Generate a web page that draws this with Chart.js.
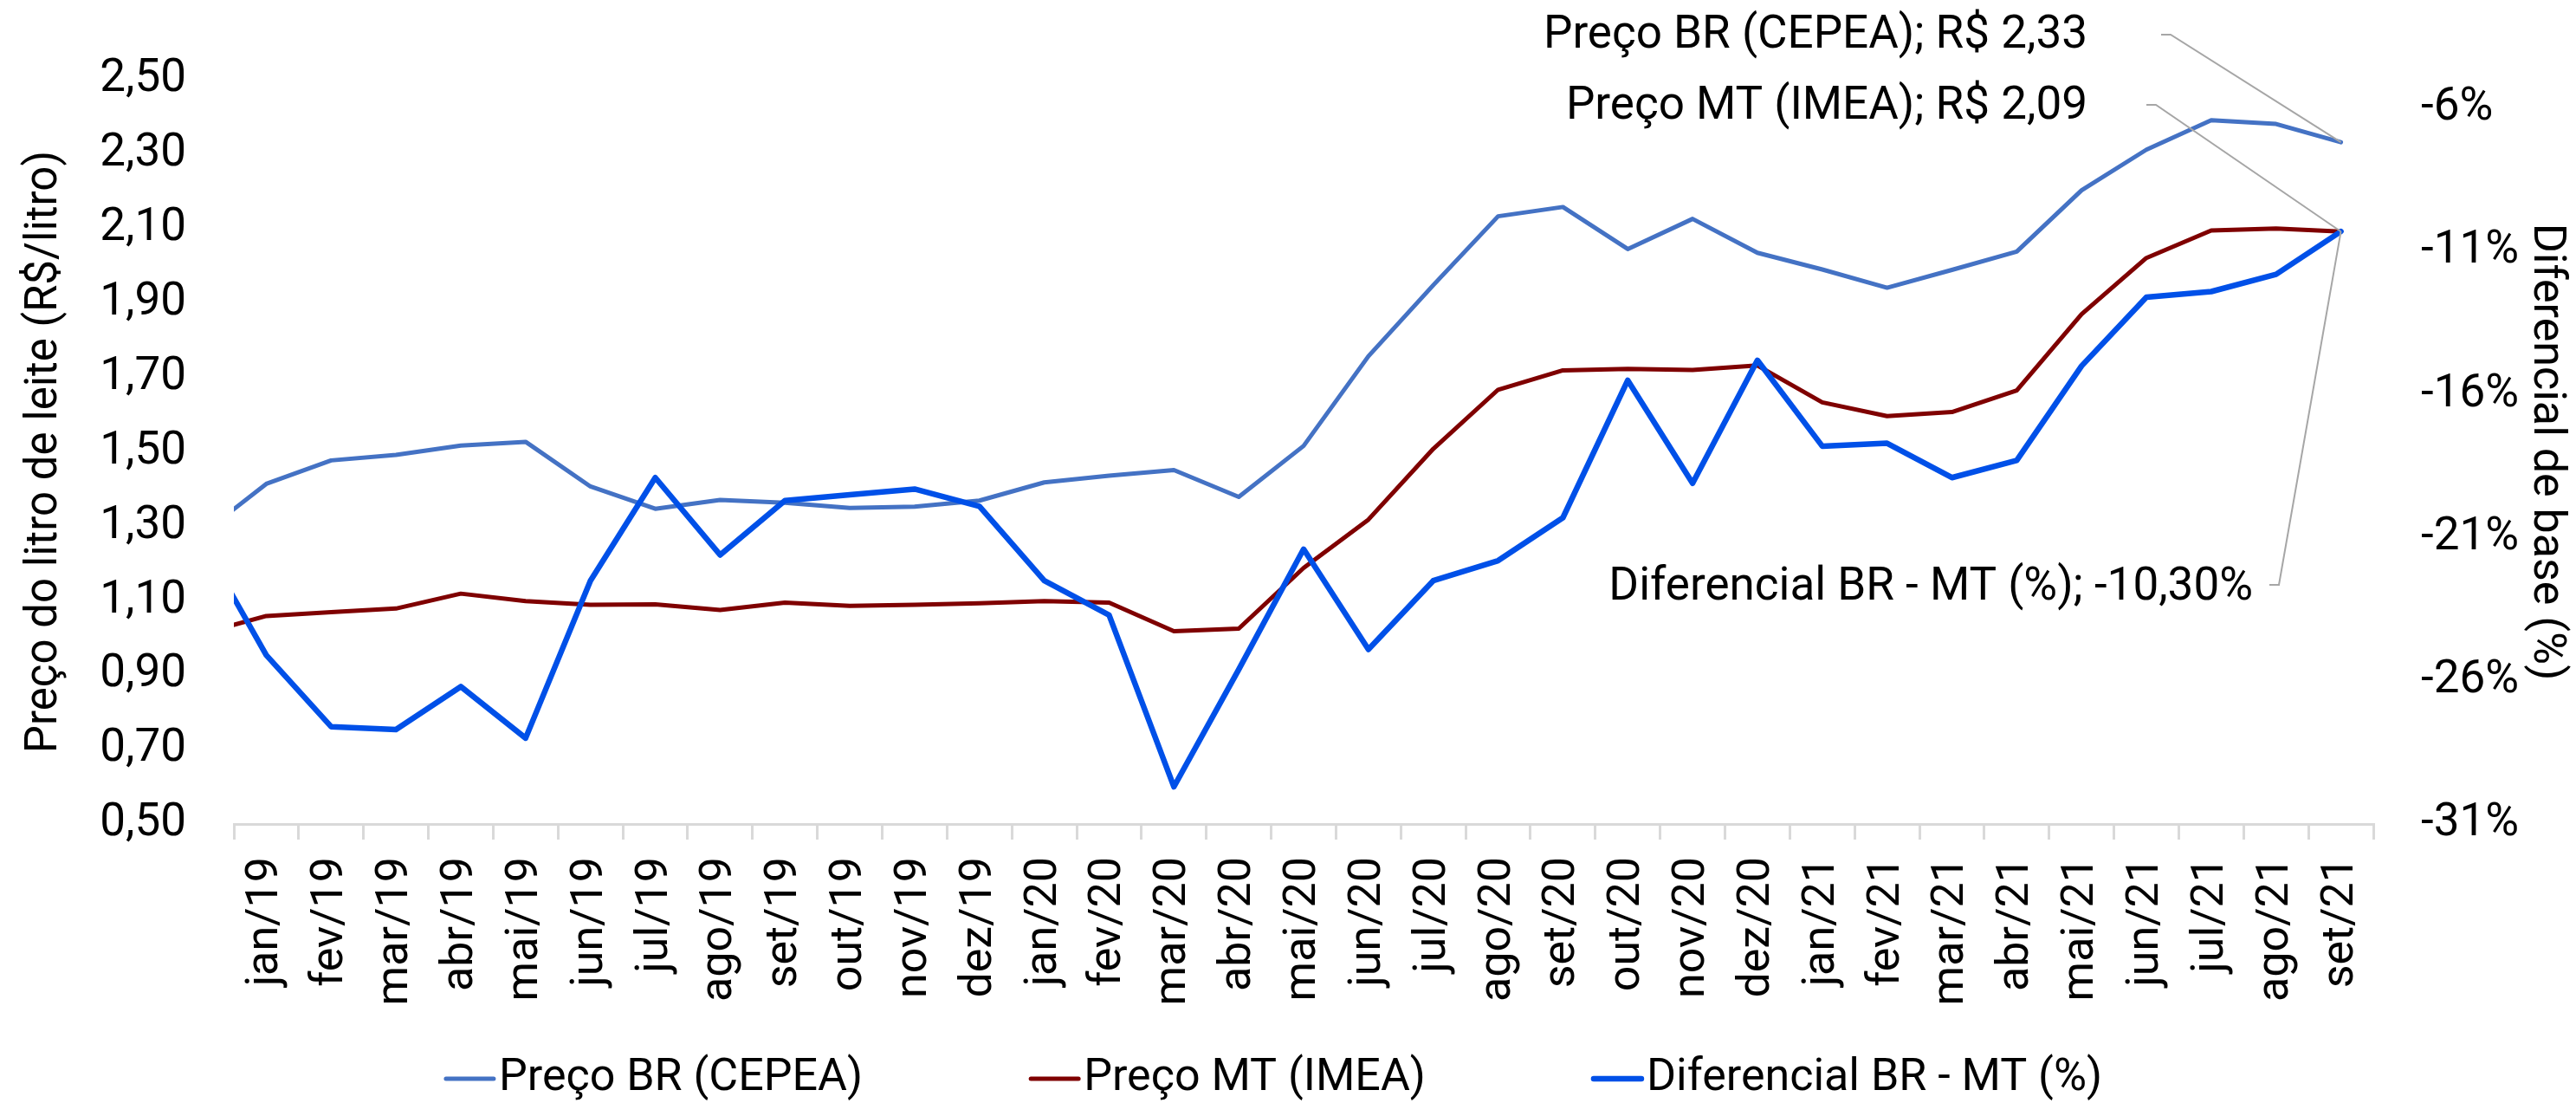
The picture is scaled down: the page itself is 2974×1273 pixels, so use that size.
<!DOCTYPE html>
<html>
<head>
<meta charset="utf-8">
<title>Preço do leite BR x MT</title>
<script src="https://cdn.jsdelivr.net/npm/chart.js@4.4.1/dist/chart.umd.min.js"></script>
<style>
  html, body { margin: 0; padding: 0; background: #fff; }
  #wrap { width: 2974px; height: 1273px; }
</style>
</head>
<body>
<div id="wrap"><canvas id="grafico" width="2974" height="1273"></canvas></div>
<script>
// meses - dez/18 fica fora do eixo, so aparece o trecho cortado na borda esquerda
const months = [
  "dez/18",
  "jan/19", "fev/19", "mar/19", "abr/19", "mai/19", "jun/19", "jul/19", "ago/19", "set/19", "out/19", "nov/19", "dez/19",
  "jan/20", "fev/20", "mar/20", "abr/20", "mai/20", "jun/20", "jul/20", "ago/20", "set/20", "out/20", "nov/20", "dez/20",
  "jan/21", "fev/21", "mar/21", "abr/21", "mai/21", "jun/21", "jul/21", "ago/21", "set/21"
];

// R$/litro
const precoBR = [
  1.278,
  1.414, 1.477, 1.492, 1.517, 1.527, 1.407, 1.347, 1.371, 1.363, 1.349, 1.353, 1.369,
  1.418, 1.436, 1.451, 1.379, 1.516, 1.757, 1.948, 2.133, 2.158, 2.045, 2.126, 2.035,
  1.990, 1.941, 1.989, 2.038, 2.203, 2.312, 2.391, 2.381, 2.332
];
const precoMT = [
  1.011,
  1.059, 1.069, 1.079, 1.119, 1.099, 1.089, 1.090, 1.075, 1.095, 1.086, 1.089, 1.093,
  1.099, 1.095, 1.018, 1.025, 1.188, 1.318, 1.508, 1.667, 1.719, 1.723, 1.720, 1.732,
  1.633, 1.596, 1.607, 1.665, 1.870, 2.021, 2.095, 2.100, 2.092
];
// %
const diferencial = [
  -21.1,
  -25.1, -27.6, -27.7, -26.2, -28.0, -22.5, -18.9, -21.6, -19.7, -19.5, -19.3, -19.9,
  -22.5, -23.7, -29.7, -25.6, -21.4, -24.9, -22.5, -21.8, -20.3, -15.5, -19.1, -14.8,
  -17.8, -17.7, -18.9, -18.3, -15.0, -12.6, -12.4, -11.8, -10.3
];

const leftTicks = [0.5, 0.7, 0.9, 1.1, 1.3, 1.5, 1.7, 1.9, 2.1, 2.3, 2.5];
const rightTicks = [-31, -26, -21, -16, -11, -6];

const FONTE = "Roboto";
const fmt = (v) => v.toFixed(2).replace(".", ",");
const pontos = (arr) => arr.map((v, i) => ({ x: i, y: v }));

// rotulos do ultimo mes com linha de chamada
const rotulos = {
  id: "rotulos",
  afterDatasetsDraw(chart) {
    const ctx = chart.ctx;
    const ult = months.length - 1;
    const itens = [
      { ds: 0, texto: "Preço BR (CEPEA); R$ " + fmt(precoBR[ult]), tx: 2410, ty: 42, lx: 2495, ly: 40 },
      { ds: 1, texto: "Preço MT (IMEA); R$ " + fmt(precoMT[ult]), tx: 2410, ty: 124, lx: 2478, ly: 121 },
      { ds: 2, texto: "Diferencial BR - MT (%); " + fmt(diferencial[ult]) + "%", tx: 2601, ty: 679, lx: 2620, ly: 675 }
    ];
    ctx.save();
    ctx.font = "53px " + FONTE;
    ctx.fillStyle = "#000";
    ctx.textAlign = "right";
    ctx.textBaseline = "middle";
    itens.forEach((it) => {
      const p = chart.getDatasetMeta(it.ds).data[ult];
      ctx.strokeStyle = "#a6a6a6";
      ctx.lineWidth = 2;
      ctx.beginPath();
      ctx.moveTo(it.lx, it.ly);
      ctx.lineTo(it.lx + 11, it.ly);
      ctx.lineTo(p.x, p.y);
      ctx.stroke();
      ctx.fillText(it.texto, it.tx, it.ty);
    });
    ctx.restore();
  }
};

// legenda desenhada na mao (espacamento do Excel)
const legenda = {
  id: "legenda",
  afterDraw(chart) {
    const ctx = chart.ctx;
    const sets = chart.data.datasets;
    ctx.save();
    ctx.font = "52px " + FONTE;
    ctx.textBaseline = "middle";
    ctx.textAlign = "left";
    const amostra = 55, gap = 6, entre = 194;
    const larg = sets.map((d) => amostra + gap + ctx.measureText(d.label).width);
    const total = larg.reduce((a, b) => a + b, 0) + entre * (sets.length - 1);
    let x = 1471 - total / 2;
    const y = 1245;
    sets.forEach((d, i) => {
      ctx.strokeStyle = d.borderColor;
      ctx.lineWidth = d.borderWidth;
      ctx.lineCap = "round";
      ctx.beginPath();
      ctx.moveTo(x, y);
      ctx.lineTo(x + amostra, y);
      ctx.stroke();
      ctx.fillStyle = "#000";
      ctx.fillText(d.label, x + amostra + gap, y);
      x += larg[i] + entre;
    });
    ctx.restore();
  }
};

const serie = (label, data, eixo, cor, larg, ordem) => ({
  label, data, yAxisID: eixo,
  borderColor: cor, backgroundColor: cor, borderWidth: larg,
  pointRadius: 0, pointHoverRadius: 0, tension: 0,
  borderJoinStyle: "round", borderCapStyle: "round",
  fill: false, order: ordem, clip: 0
});

new Chart(document.getElementById("grafico"), {
  type: "line",
  data: {
    datasets: [
      serie("Preço BR (CEPEA)", pontos(precoBR), "y", "#4472C4", 5, 3),
      serie("Preço MT (IMEA)", pontos(precoMT), "y", "#7F0000", 5, 2),
      serie("Diferencial BR - MT (%)", pontos(diferencial), "y1", "#0050E8", 6.5, 1)
    ]
  },
  options: {
    responsive: false,
    animation: false,
    devicePixelRatio: 1,
    layout: { padding: { top: 92, left: 0, right: 0, bottom: 0 } },
    plugins: {
      legend: { display: false },
      tooltip: { enabled: false }
    },
    scales: {
      x: {
        type: "linear",
        min: 0.5,
        max: months.length - 0.5,
        afterBuildTicks: (axis) => {
          axis.ticks = months.map((m, i) => ({ value: i })).filter((t) => t.value >= 1);
        },
        afterFit: (s) => { s.height = 1273 - 951; },
        ticks: {
          autoSkip: false,
          minRotation: 90,
          maxRotation: 90,
          padding: 20,
          color: "#000",
          font: { family: FONTE, size: 52 },
          callback: (v) => months[v]
        },
        grid: {
          offset: true,
          drawOnChartArea: false,
          drawTicks: true,
          tickLength: 18,
          color: "#d9d9d9",
          lineWidth: 3
        },
        border: { display: true, color: "#d9d9d9", width: 3 }
      },
      y: {
        position: "left",
        min: 0.5,
        max: 2.5,
        afterBuildTicks: (axis) => { axis.ticks = leftTicks.map((v) => ({ value: v })); },
        afterFit: (s) => { s.width = 270; },
        ticks: {
          padding: 55,
          color: "#000",
          font: { family: FONTE, size: 53 },
          callback: (v) => fmt(v)
        },
        grid: { display: false, drawTicks: false },
        border: { display: false },
        title: {
          display: true,
          text: "Preço do litro de leite (R$/litro)",
          color: "#000",
          font: { family: FONTE, size: 51 },
          padding: { top: 22, bottom: 0 }
        }
      },
      y1: {
        position: "right",
        min: -31,
        max: -5,
        afterBuildTicks: (axis) => { axis.ticks = rightTicks.map((v) => ({ value: v })); },
        afterFit: (s) => { s.width = 2974 - 2740; },
        ticks: {
          padding: 55,
          color: "#000",
          font: { family: FONTE, size: 53 },
          callback: (v) => v + "%"
        },
        grid: { display: false, drawTicks: false },
        border: { display: false },
        title: {
          display: true,
          text: "Diferencial de base (%)",
          color: "#000",
          font: { family: FONTE, size: 52 },
          padding: { top: 4, bottom: 0 }
        }
      }
    }
  },
  plugins: [rotulos, legenda]
});
</script>
</body>
</html>
